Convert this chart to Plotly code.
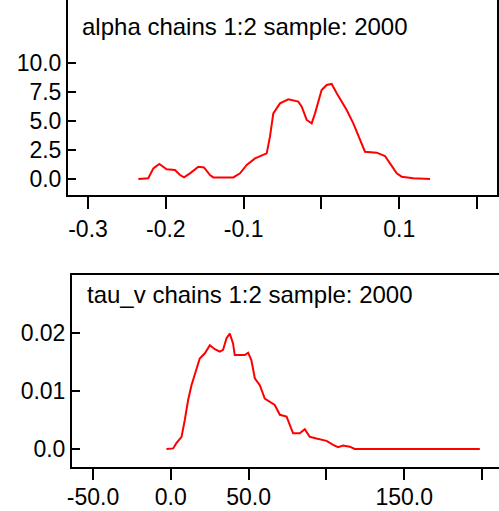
import plotly.graph_objects as go

# ---- data ----
alpha_x = [-0.2353, -0.2225, -0.216, -0.2083, -0.1989, -0.1882, -0.1817, -0.1766, -0.1689,
           -0.1582, -0.1509, -0.1432, -0.139, -0.1132, -0.1046, -0.096, -0.0853, -0.0747,
           -0.0703, -0.0661, -0.0618, -0.0532, -0.0425, -0.0297, -0.0253, -0.0189, -0.0125,
           -0.0082, 0.0003, 0.0068, 0.0132, 0.0197, 0.0325, 0.041, 0.0496, 0.056, 0.0711,
           0.0817, 0.0882, 0.0968, 0.1032, 0.1181, 0.1396]
alpha_y = [0.0, 0.06, 0.92, 1.29, 0.83, 0.78, 0.34, 0.14, 0.49,
           1.06, 1.0, 0.34, 0.14, 0.14, 0.49, 1.21, 1.78, 2.07,
           2.21, 3.65, 5.66, 6.52, 6.87, 6.67, 6.24, 5.09, 4.8,
           5.66, 7.67, 8.1, 8.19, 7.39, 5.95, 4.8, 3.36, 2.35, 2.27,
           1.98, 1.35, 0.49, 0.2, 0.06, 0.0]

tau_x = [-2.8, 1.5, 3.6, 6.9, 9.0, 11.1, 13.3, 16.5, 18.6, 21.9, 25.1, 28.3, 31.5, 33.6,
         35.8, 37.9, 40.0, 41.1, 47.6, 49.7, 51.8, 54.0, 57.2, 60.4, 63.6, 66.8, 70.1,
         74.4, 78.6, 82.9, 86.1, 89.3, 93.6, 100.1, 104.3, 107.5, 110.7, 115.0, 118.2,
         125.8, 127.9, 198.6]
tau_y = [0.0, 0.0001, 0.001, 0.0021, 0.005, 0.0084, 0.011, 0.0136, 0.0156, 0.0165, 0.0179,
         0.0172, 0.0168, 0.0171, 0.0191, 0.0199, 0.0182, 0.0162, 0.0162, 0.0166, 0.0153,
         0.0122, 0.011, 0.0087, 0.0082, 0.0076, 0.0059, 0.0056, 0.0027, 0.0027, 0.0034,
         0.0021, 0.0018, 0.0014, 0.0007, 0.0003, 0.0006, 0.0004, 0.0, 0.0001, 0.0, 0.0]

alpha_xticks = [-0.3, -0.2, -0.1, 0.0, 0.1, 0.2]
alpha_xticktext = ["-0.3", "-0.2", "-0.1", "", "0.1", ""]
alpha_yticks = [0.0, 2.5, 5.0, 7.5, 10.0]
alpha_yticktext = ["0.0", "2.5", "5.0", "7.5", "10.0"]

tau_xticks = [-50, 0, 50, 100, 150, 200]
tau_xticktext = ["-50.0", "0.0", "50.0", "", "150.0", ""]
tau_yticks = [0.0, 0.01, 0.02]
tau_yticktext = ["0.0", "0.01", "0.02"]

alpha_title = "alpha chains 1:2 sample: 2000"
tau_title = "tau_v chains 1:2 sample: 2000"

# ---- figure ----
W, H = 499, 511
FONT = "Liberation Sans, Arial, sans-serif"
LINE = dict(color="red", width=2)

fig = go.Figure()
fig.add_trace(go.Scatter(x=alpha_x, y=alpha_y, mode="lines", line=LINE,
                         xaxis="x", yaxis="y", showlegend=False, hoverinfo="skip"))
fig.add_trace(go.Scatter(x=tau_x, y=tau_y, mode="lines", line=LINE,
                         xaxis="x2", yaxis="y2", showlegend=False, hoverinfo="skip"))

tick_font = dict(family=FONT, size=23, color="black")
common = dict(showgrid=False, zeroline=False, showline=True, linecolor="black",
              linewidth=2, tickcolor="black", tickwidth=2, tickfont=tick_font,
              automargin=False)

fig.update_layout(
    width=W, height=H,
    margin=dict(l=0, r=0, t=0, b=0, pad=0),
    paper_bgcolor="white", plot_bgcolor="white",
    xaxis=dict(domain=[68 / W, 497 / W], anchor="y",
               range=[-0.3 - 20 / 778, 0.2 + 20 / 778],
               tickvals=alpha_xticks, ticktext=alpha_xticktext,
               ticks="outside", ticklen=12, mirror=False, **common),
    yaxis=dict(domain=[1 - 195 / H, 1.0], anchor="x",
               range=[-16 / 11.6, 179 / 11.6],
               tickvals=alpha_yticks, ticktext=alpha_yticktext,
               ticks="inside", ticklen=8, mirror=True, **common),
    xaxis2=dict(domain=[72 / W, 1.0], anchor="y2",
                range=[-50 - 21 / 1.556, 200 + 17 / 1.556],
                tickvals=tau_xticks, ticktext=tau_xticktext,
                ticks="outside", ticklen=11, mirror=True,
                ticklabelstandoff=-3, **common),
    yaxis2=dict(domain=[1 - 467 / H, 1 - 275 / H], anchor="x2",
                range=[-18 / 5800, 174 / 5800],
                tickvals=tau_yticks, ticktext=tau_yticktext,
                ticks="inside", ticklen=8, mirror=False, **common),
    annotations=[
        dict(text=alpha_title, x=80 / W, y=1 - 26 / H, xref="paper", yref="paper",
             xanchor="left", yanchor="middle", showarrow=False,
             font=dict(family=FONT, size=24, color="black")),
        dict(text=tau_title, x=85 / W, y=1 - 294 / H, xref="paper", yref="paper",
             xanchor="left", yanchor="middle", showarrow=False,
             font=dict(family=FONT, size=24, color="black")),
    ],
)

fig.write_html("out.html", config={"displayModeBar": False},
               post_script="document.body.style.margin='0';document.body.style.overflow='hidden';")
